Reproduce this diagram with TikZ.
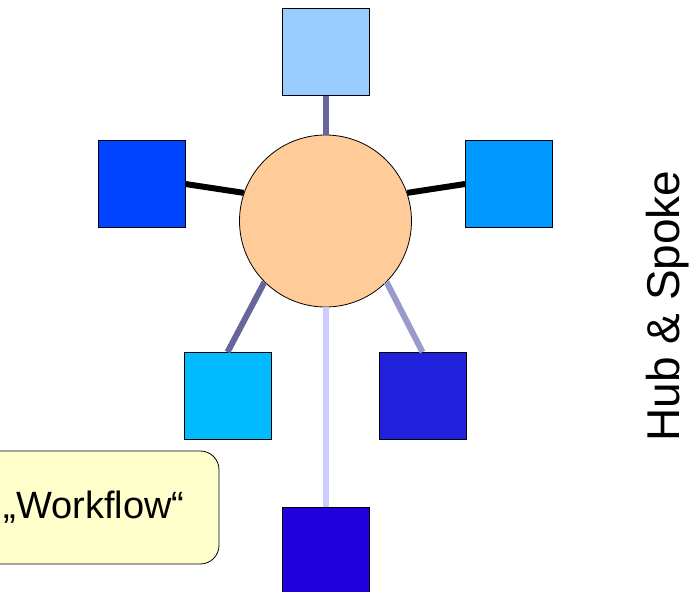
\documentclass[tikz,border=0pt]{standalone}
\usepackage{fontspec}
\setmainfont{Liberation Sans}
\definecolor{hubfill}{HTML}{FFCC99}
\definecolor{flowfill}{HTML}{FFFFCC}
\definecolor{sqtop}{HTML}{99CCFF}
\definecolor{sqleft}{HTML}{0044FF}
\definecolor{sqright}{HTML}{0099FF}
\definecolor{sqbl}{HTML}{00BBFF}
\definecolor{sqbr}{HTML}{2222DD}
\definecolor{sqbot}{HTML}{2200DD}
\definecolor{spokedk}{HTML}{666699}
\definecolor{spokemd}{HTML}{9999CC}
\definecolor{spokelt}{HTML}{CCCCFF}

\begin{document}
\begin{tikzpicture}[x=0.75pt,y=-0.75pt,
  box/.style={draw=black,line width=0.6pt,minimum size=65.25pt,inner sep=0pt},
  spoke/.style={line width=4.5pt}]
\useasboundingbox (0,0) rectangle (690,592);
\node[draw,circle,fill=hubfill,minimum size=129pt,inner sep=0pt,line width=0.6pt](hub) at (325.5,221){};
\node[box,fill=sqtop](sT) at (325.5,52){};
\node[box,fill=sqleft](sL) at (141.5,184){};
\node[box,fill=sqright](sR) at (509,184){};
\node[box,fill=sqbl](sBL) at (227.5,396){};
\node[box,fill=sqbr](sBR) at (422.5,396){};
\node[box,fill=sqbot](sB) at (325.5,551){};
\draw[spoke,spokedk](hub.north)--(sT.south);
\draw[spoke,black](hub.161)--(sL.east);
\draw[spoke,black](hub.19)--(sR.west);
\draw[spoke,spokedk](hub.225)--(sBL.north);
\draw[spoke,spokemd](hub.-45)--(sBR.north);
\draw[spoke,spokelt](hub.south)--(sB.north);
\node[draw,fill=flowfill,line width=0.6pt,rounded corners=14pt,minimum width=187.5pt,
  minimum height=84.75pt,font=\fontsize{28.5}{30}\selectfont](flow) at (94,507.5){„Workflow“};
\node[rotate=90,anchor=base,inner sep=0pt,font=\fontsize{34.5}{36}\selectfont](title) at (679,306){Hub \& Spoke};
\end{tikzpicture}
\end{document}
